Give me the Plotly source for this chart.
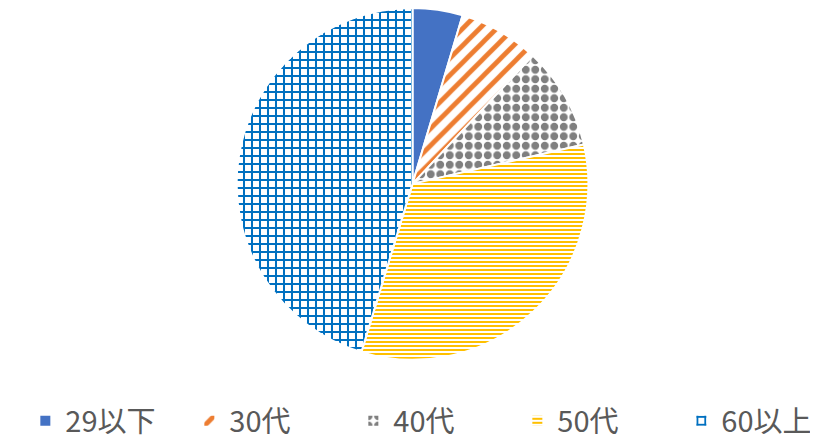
import plotly.graph_objects as go

labels = ["29以下", "30代", "40代", "50代", "60以上"]
values = [4.6, 7.4, 9.4, 33.3, 45.3]
colors = ["#4472C4", "#ED7D31", "#7F7F7F", "#FFC000", "#0070C0"]
shapes = ["", "/", ".", "-", "+"]
sizes = [8, 12, 9.5, 4, 8]
solidities = [0.3, 0.4, 0.55, 0.5, 0.44]

fig = go.Figure(go.Pie(
    labels=labels,
    values=values,
    sort=False,
    direction="clockwise",
    rotation=0,
    textinfo="none",
    hoverinfo="label+value",
    marker=dict(
        colors=colors,
        line=dict(color="white", width=2),
        pattern=dict(
            shape=shapes,
            fgcolor=colors,
            bgcolor="white",
            size=sizes,
            solidity=solidities,
            fillmode="replace",
        ),
    ),
    domain=dict(x=[0.0, 0.989], y=[0.195, 1.0]),
))

fig.update_layout(
    width=818,
    height=437,
    margin=dict(l=0, r=0, t=0, b=0, autoexpand=False),
    paper_bgcolor="white",
    plot_bgcolor="white",
    font=dict(family="Noto Sans CJK JP", color="#595959"),
    showlegend=True,
    legend=dict(
        orientation="h",
        x=0.0212,
        xanchor="left",
        y=0.055,
        yanchor="middle",
        font=dict(size=29, color="#595959", family="Noto Sans CJK JP"),
        entrywidth=119,
        entrywidthmode="pixels",
        bgcolor="rgba(0,0,0,0)",
    ),
)

fig.write_html("out.html")
